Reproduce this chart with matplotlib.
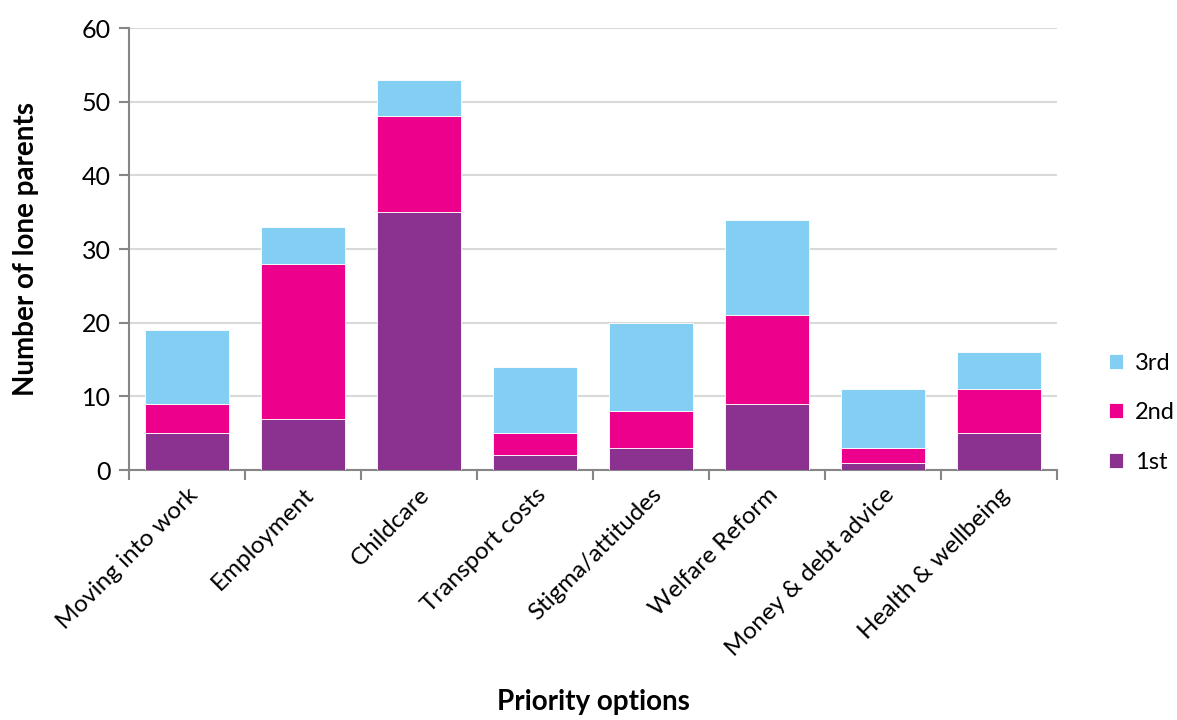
import matplotlib
matplotlib.use("Agg")
import matplotlib.pyplot as plt
import numpy as np

plt.rcParams['font.family'] = ['Lato', 'DejaVu Sans']

categories = ['Moving into work', 'Employment', 'Childcare', 'Transport costs',
              'Stigma/attitudes', 'Welfare Reform', 'Money & debt advice', 'Health & wellbeing']
first = [5, 7, 35, 2, 3, 9, 1, 5]
second = [4, 21, 13, 3, 5, 12, 2, 6]
third = [10, 5, 5, 9, 12, 13, 8, 5]

c1 = '#8B3290'
c2 = '#EC008C'
c3 = '#82CFF3'

fig = plt.figure(figsize=(11.77, 7.2), dpi=100)
ax = fig.add_axes([0.1096, 0.347, 0.7885, 0.614])

x = np.arange(len(categories))
w = 0.72
b1 = ax.bar(x, first, w, color=c1, edgecolor='white', linewidth=0.6, label='1st', zorder=3)
b2 = ax.bar(x, second, w, bottom=first, color=c2, edgecolor='white', linewidth=0.6, label='2nd', zorder=3)
bot3 = np.array(first) + np.array(second)
b3 = ax.bar(x, third, w, bottom=bot3, color=c3, edgecolor='white', linewidth=0.6, label='3rd', zorder=3)

ax.set_xlim(-0.5, len(categories) - 0.5)
ax.set_ylim(0, 60)
ax.set_yticks(range(0, 61, 10))
ax.yaxis.grid(True, color='#d9d9d9', linewidth=1.5, zorder=0)

for s in ['top', 'right']:
    ax.spines[s].set_visible(False)
for s in ['left', 'bottom']:
    ax.spines[s].set_color('#868686')
    ax.spines[s].set_linewidth(1.5)

ax.set_xticks(x)
ax.set_xticklabels(categories, rotation=45, ha='right', rotation_mode='anchor', fontsize=17.5)
ax.tick_params(axis='x', length=0, pad=10)
ax.set_xticks(np.arange(-0.5, len(categories), 1), minor=True)
ax.tick_params(axis='x', which='minor', length=7, color='#868686', width=1.5)
ax.tick_params(axis='y', labelsize=18, length=7, color='#868686', width=1.5, pad=6)

ax.set_ylabel('Number of lone parents', fontsize=20, fontweight='bold', labelpad=31)
ax.set_xlabel('Priority options', fontsize=20, fontweight='bold', labelpad=21)

ax.legend(handles=[b3, b2, b1], loc='center left', bbox_to_anchor=(1.033, 0.13),
          frameon=False, fontsize=17, handlelength=0.6, handleheight=0.6,
          labelspacing=1.2, handletextpad=0.5)

fig.savefig('out.png', dpi=100)
